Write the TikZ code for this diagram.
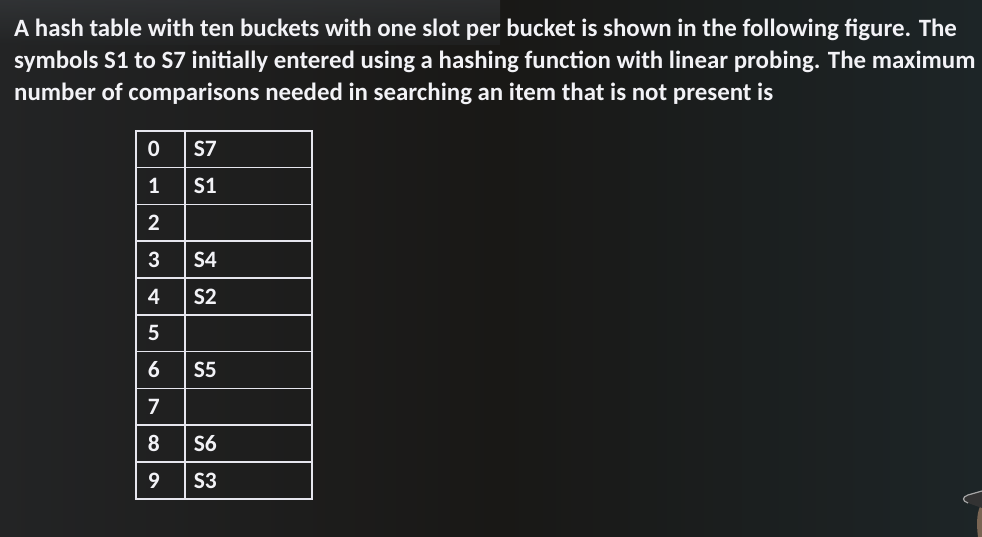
\documentclass[tikz,border=0pt]{standalone}
\usepackage{fontspec}
\setmainfont{Carlito}
\usetikzlibrary{positioning}
\definecolor{bgbase}{HTML}{1A1A1A}
\definecolor{bgleft}{HTML}{232425}
\definecolor{bgmid}{HTML}{191816}
\definecolor{bgright}{HTML}{1D2527}
\definecolor{bgtop}{HTML}{393C3F}
\definecolor{inkw}{HTML}{F2F2F6}
\definecolor{linew}{HTML}{E6E6EE}
\definecolor{skin}{HTML}{C9A88A}
\begin{document}
\begin{tikzpicture}[x=1pt,y=-1pt,
  qtext/.style={anchor=base west,inner sep=0pt,text=inkw,font=\fontsize{24.9}{30}\selectfont\bfseries},
  idxcell/.style={draw=linew,line width=1.6pt,minimum width=49pt,minimum height=36.8pt,
     text width=25pt,inner xsep=12pt,inner ysep=0pt,align=left,anchor=north west,text=inkw,
     font=\fontsize{23.5}{28}\selectfont\bfseries},
  valcell/.style={draw=linew,line width=1.6pt,minimum width=127pt,minimum height=36.8pt,
     text width=109pt,inner xsep=9pt,inner ysep=0pt,align=left,anchor=north west,text=inkw,
     font=\fontsize{23.5}{28}\selectfont\bfseries}]
\useasboundingbox (0,0) rectangle (982,537);
% background
\fill[bgbase] (0,0) rectangle (982,537);
\shade[left color=bgleft,right color=bgmid] (0,0) rectangle (500,537);
\shade[left color=bgmid,right color=bgright] (500,0) rectangle (982,537);
\shade[top color=bgtop,bottom color=bgleft,opacity=0.6] (0,0) rectangle (500,45);
% question text
\node[qtext] (l1) at (14,37) {A hash table with ten buckets with one slot per bucket is shown in the following figure. The};
\node[qtext] (l2) at (14,69) {symbols S1 to S7 initially entered using a hashing function with linear probing. The maximum};
\node[qtext] (l3) at (14,101) {number of comparisons needed in searching an item that is not present is};
% table
\foreach \i/\v in {0/S7,1/S1,2/,3/S4,4/S2,5/,6/S5,7/,8/S6,9/S3}{
  \node[idxcell] (i\i) at (135,130+36.8*\i) {\i};
  \node[valcell] (v\i) at (184,130+36.8*\i) {\v};
}
% hand / pen at bottom right corner
\fill[skin!60!black] (982,503) .. controls (977,510) and (976,522) .. (978,537) -- (982,537) -- cycle;
\fill[black!80] (982,491) -- (968,495) .. controls (962,497) and (962,501) .. (968,503) -- (982,508) -- cycle;
\draw[gray!70,line width=1.2pt] (982,491) -- (968,495) .. controls (962,497) and (962,501) .. (968,503);
\end{tikzpicture}
\end{document}
